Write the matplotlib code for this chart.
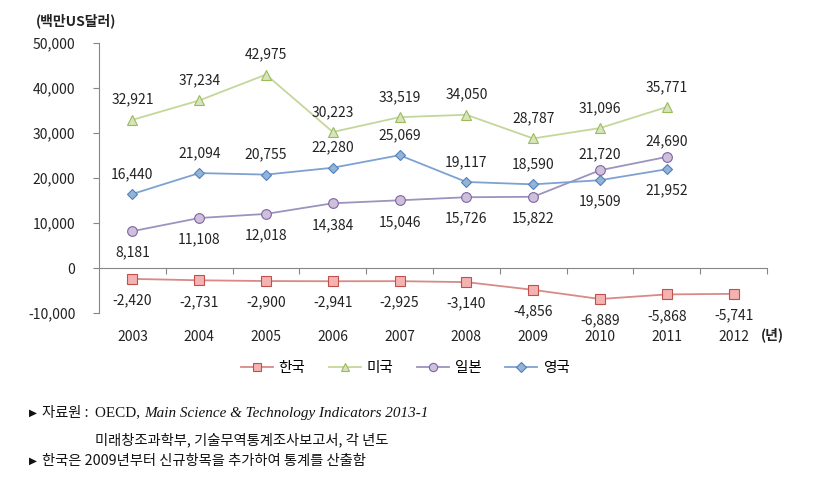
import matplotlib
matplotlib.use("Agg")
import matplotlib.pyplot as plt
from matplotlib.ticker import FuncFormatter, FixedLocator

plt.rcParams['font.family'] = ['Noto Sans CJK KR', 'DejaVu Sans']

years = ['2003', '2004', '2005', '2006', '2007', '2008', '2009', '2010', '2011', '2012']
korea = [-2420, -2731, -2900, -2941, -2925, -3140, -4856, -6889, -5868, -5741]
usa = [32921, 37234, 42975, 30223, 33519, 34050, 28787, 31096, 35771]
japan = [8181, 11108, 12018, 14384, 15046, 15726, 15822, 21720, 24690]
uk = [16440, 21094, 20755, 22280, 25069, 19117, 18590, 19509, 21952]
names = ['한국', '미국', '일본', '영국']

# label side for each point: +1 above, -1 below
usa_side = [1] * 9
uk_side = [1, 1, 1, 1, 1, 1, 1, -1, -1]
japan_side = [-1, -1, -1, -1, -1, -1, -1, 1, 1]
korea_side = [-1] * 10

fig = plt.figure(figsize=(8.24, 4.8), dpi=100)
ax = fig.add_axes([99 / 824, 1 - 313 / 480, 668 / 824, 270 / 480])

series = [
    (korea, 's', '#D88A88', '#F4B2B0', '#C0504D', korea_side, 6.5),
    (usa, '^', '#C4D79B', '#D7E4BD', '#9BBB59', usa_side, 7.5),
    (japan, 'o', '#9C93BE', '#CCC0DA', '#8064A2', japan_side, 7),
    (uk, 'D', '#7DA2D2', '#95B3D7', '#4F81BD', uk_side, 5.5),
]

for (vals, mk, lc, fc, ec, side, ms), nm in zip(series, names):
    xs = list(range(len(vals)))
    ax.plot(xs, vals, color=lc, lw=1.3, marker=mk, markersize=ms,
            markerfacecolor=fc, markeredgecolor=ec, markeredgewidth=0.8, label=nm)
    for x, v, s in zip(xs, vals, side):
        off = 14.5 if s > 0 else -15.5
        if vals is japan and s > 0:
            off = 11.5
        ax.annotate(f'{v:,}', (x, v), xytext=(0, off), textcoords='offset points',
                    ha='center', va='center', fontsize=10, color='#222222')

ax.set_xlim(-0.5, 9.5)
ax.set_ylim(-10000, 50000)
ax.set_yticks(range(-10000, 50001, 10000))
ax.yaxis.set_major_formatter(FuncFormatter(lambda v, p: f'{int(v):,}'))
ax.tick_params(axis='y', length=4, pad=13, labelsize=10, color='#868686', labelcolor='#222222')

for s in ['top', 'right']:
    ax.spines[s].set_visible(False)
ax.spines['left'].set_color('#868686')
ax.spines['bottom'].set_position(('data', 0))
ax.spines['bottom'].set_color('#868686')
ax.spines['bottom'].set_bounds(-0.5, 9.5)
ax.xaxis.set_major_locator(FixedLocator([i + 0.5 for i in range(10)]))
ax.tick_params(axis='x', length=4, direction='out', color='#868686', labelbottom=False)

sec = ax.secondary_xaxis('bottom')
sec.set_xticks(range(10))
sec.set_xticklabels(years)
sec.tick_params(length=0, pad=12, labelsize=10, labelcolor='#222222')
sec.spines['bottom'].set_visible(False)

fig.text(772 / 824, 1 - 335 / 480, '(년)', ha='center', va='center', fontsize=10,
         fontweight='bold', color='#222222')
fig.text(36 / 824, 1 - 21 / 480, '(백만US달러)', ha='left', va='center', fontsize=10,
         fontweight='bold', color='#222222')

ax.legend(loc='center', bbox_to_anchor=(405 / 824, 1 - 368 / 480),
          bbox_transform=fig.transFigure, ncol=4, frameon=False, fontsize=10.5,
          handlelength=2.2, columnspacing=1.6, handletextpad=0.4, markerscale=0.85)

# notes under the chart
renderer = fig.canvas.get_renderer()


def put(x, y, s, **kw):
    t = fig.text(x / 824, 1 - y / 480, s, ha='left', va='center', **kw)
    bb = t.get_window_extent(renderer=renderer)
    return x + bb.width


kr = dict(fontsize=10.3, color='#111111', family=['Noto Sans CJK KR', 'DejaVu Sans'])
serif = dict(fontsize=10.9, color='#111111', family='Liberation Serif')

put(29, 413, '▶', fontsize=7.5, color='#111111', family='DejaVu Sans')
put(42, 413, '자료원 :', **kr)
x = put(95, 413, 'OECD, ', **serif)
put(x, 413, 'Main Science & Technology Indicators 2013-1', style='italic', **serif)
put(95, 440, '미래창조과학부, 기술무역통계조사보고서, 각 년도', **kr)
put(29, 461, '▶', fontsize=7.5, color='#111111', family='DejaVu Sans')
put(42, 461, '한국은 2009년부터 신규항목을 추가하여 통계를 산출함', **kr)

fig.savefig('out.png', dpi=100)
